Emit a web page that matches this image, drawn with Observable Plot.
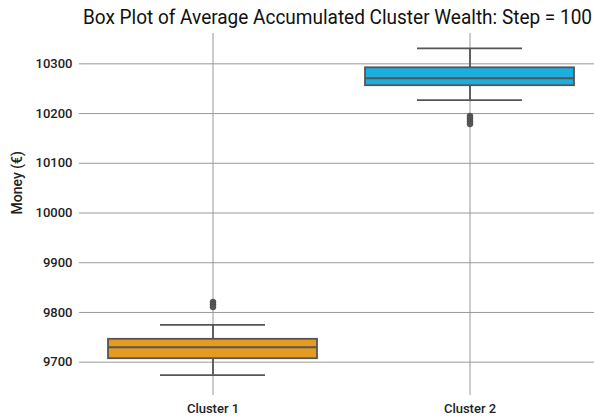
<!DOCTYPE html>
<html><head><meta charset="utf-8">
<script src="https://cdn.jsdelivr.net/npm/d3@7"></script>
<script src="https://cdn.jsdelivr.net/npm/@observablehq/plot@0.6"></script>
<style>
html,body{margin:0;padding:0;background:#fff;}
#wrap{position:relative;width:594px;height:416px;overflow:hidden;}
#title{position:absolute;left:83px;top:7px;white-space:nowrap;font-family:Roboto,"Noto Sans",sans-serif;font-size:20px;color:#111;transform-origin:0 0;line-height:1;}
</style>
</head><body>
<div id="wrap"><div id="title">Box Plot of Average Accumulated Cluster Wealth: Step = 100</div></div>
<script>
const clusters = ["Cluster 1", "Cluster 2"];
const boxColors = ["#E39B22", "#1DAEE0"];
const q1 = [9707, 10256];
const median = [9730, 10271];
const q3 = [9746, 10292];
const whiskerLow = [9674, 10227];
const whiskerHigh = [9775, 10331];
const outlierCluster = ["Cluster 1", "Cluster 1", "Cluster 1", "Cluster 2", "Cluster 2", "Cluster 2", "Cluster 2"];
const outlierValue = [9821, 9816, 9811, 10195, 10190, 10184, 10179];
const yTicks = [9700, 9800, 9900, 10000, 10100, 10200, 10300];

const boxes = clusters.map((c, i) => ({c, q1: q1[i], med: median[i], q3: q3[i], lo: whiskerLow[i], hi: whiskerHigh[i], color: boxColors[i]}));
const outliers = outlierCluster.map((c, i) => ({c, v: outlierValue[i]}));

const lineCol = "#555";
const chart = Plot.plot({
  width: 594,
  height: 416,
  marginLeft: 79,
  marginRight: 0,
  marginTop: 33,
  marginBottom: 21,
  style: {fontFamily: "Roboto, 'Noto Sans', sans-serif", fontSize: "13px", color: "#222", background: "transparent"},
  x: {type: "band", domain: clusters, range: [84, 598], padding: 0},
  y: {domain: [9633, 10361]},
  marks: [
    Plot.gridY(yTicks, {stroke: "#999", strokeOpacity: 1, strokeWidth: 1}),
    Plot.gridX(clusters, {stroke: "#999", strokeOpacity: 1, strokeWidth: 1}),
    Plot.axisY(yTicks, {tickSize: 0, tickPadding: 7, tickFormat: d3.format("d"), label: null, fontWeight: 500}),
    Plot.text(["Money (€)"], {frameAnchor: "left", dx: -62, rotate: -90, fontSize: 14, fontWeight: 500, fill: "#222"}),
    Plot.axisX(clusters, {tickSize: 0, tickPadding: 8, label: null, fontWeight: 500}),
    Plot.ruleX(boxes, {x: "c", y1: "lo", y2: "q1", stroke: lineCol, strokeWidth: 1.8}),
    Plot.ruleX(boxes, {x: "c", y1: "q3", y2: "hi", stroke: lineCol, strokeWidth: 1.8}),
    Plot.tickY(boxes, {x: "c", y: "lo", stroke: lineCol, strokeWidth: 1.8, insetLeft: 76, insetRight: 76}),
    Plot.tickY(boxes, {x: "c", y: "hi", stroke: lineCol, strokeWidth: 1.8, insetLeft: 76, insetRight: 76}),
    Plot.barY(boxes, {x: "c", y1: "q1", y2: "q3", fill: "color", stroke: lineCol, strokeWidth: 1.8, insetLeft: 24, insetRight: 24}),
    Plot.tickY(boxes, {x: "c", y: "med", stroke: lineCol, strokeWidth: 1.8, insetLeft: 24, insetRight: 24}),
    Plot.dot(outliers, {x: "c", y: "v", r: 3, fill: lineCol, stroke: "#444", strokeWidth: 0.5})
  ]
});
document.getElementById("wrap").appendChild(chart);
const t = document.getElementById("title");
const w = t.getBoundingClientRect().width;
t.style.transform = `scaleX(${509 / w})`;
</script>
</body></html>
